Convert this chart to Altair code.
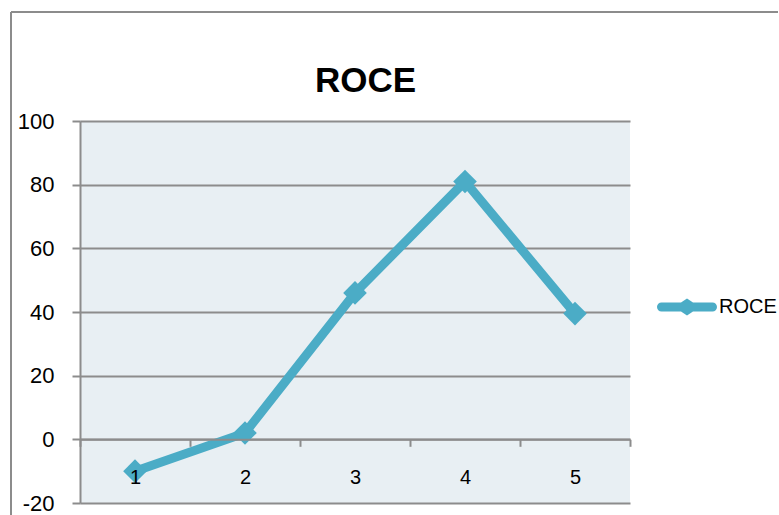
import altair as alt
import pandas as pd

# ---- data ----
periods = [1, 2, 3, 4, 5]
roce_values = [-10, 2, 46, 81, 39.5]
series_names = ["ROCE", "ROCE", "ROCE", "ROCE", "ROCE"]
y_ticks = [-20, 0, 20, 40, 60, 80, 100]
chart_title = ["ROCE"]

df = pd.DataFrame({"period": periods, "ROCE": roce_values, "series": series_names})

LINE = "#4bacc6"
GRID = "#8c8c8c"
FONT = "Liberation Sans"

W, H = 550, 382
PAD_L, PAD_T = 80, 121

x_enc = alt.X(
    "period:O",
    scale=alt.Scale(type="band", paddingInner=0, paddingOuter=0),
    axis=alt.Axis(
        title=None, labelAngle=0, offset=-63.7, tickBand="extent",
        domainColor=GRID, domainWidth=2, tickColor=GRID, tickWidth=2,
        tickSize=7, labelPadding=21, labelFontSize=20, labelColor="black",
        labelFont=FONT, grid=False, zindex=1,
    ),
)
y_enc = alt.Y(
    "ROCE:Q",
    scale=alt.Scale(domain=[-20, 100], nice=False, zero=False),
    axis=alt.Axis(
        title=None, values=y_ticks, grid=True, gridColor=GRID, gridWidth=2,
        domainColor=GRID, domainWidth=2, tickColor=GRID, tickWidth=2,
        tickSize=8, labelPadding=18, labelFontSize=22, labelColor="black",
        labelFont=FONT,
        labelExpr="datum.value < 0 ? '-' + abs(datum.value) : '' + datum.value",
    ),
)

legend_path = ("M-0.85,-0.15 H-0.2 L0,-0.28 L0.2,-0.15 H0.85 "
               "A0.15,0.15 0 0 1 0.85,0.15 H0.2 L0,0.28 L-0.2,0.15 H-0.85 "
               "A0.15,0.15 0 0 1 -0.85,-0.15 Z")

base = alt.Chart(df)

line = base.mark_line(color=LINE, strokeWidth=9, strokeJoin="miter").encode(x=x_enc, y=y_enc)

points = base.mark_point(shape="diamond", filled=True, size=560, opacity=1, strokeWidth=0).encode(
    x=x_enc,
    y=y_enc,
    color=alt.Color(
        "series:N",
        scale=alt.Scale(domain=["ROCE"], range=[LINE]),
        legend=alt.Legend(
            title=None, orient="none", legendX=577, legendY=156,
            symbolType=legend_path, symbolSize=3600, symbolStrokeWidth=0,
            symbolOpacity=1, labelFontSize=20, labelFont=FONT,
            labelColor="black", labelOffset=2, padding=0,
        ),
    ),
)

title_df = pd.DataFrame({"t": chart_title})
title = alt.Chart(title_df).mark_text(
    font=FONT, fontSize=35, fontWeight="bold", color="black",
    align="center", baseline="alphabetic",
).encode(text="t:N", x=alt.value(285.5), y=alt.value(-29))

border_df = pd.DataFrame({"a": [0]})
border_left = alt.Chart(border_df).mark_rule(color=GRID, strokeWidth=2).encode(
    x=alt.value(11 - PAD_L), y=alt.value(12 - PAD_T), y2=alt.value(515)
)
border_top = alt.Chart(border_df).mark_rule(color=GRID, strokeWidth=2).encode(
    x=alt.value(11 - PAD_L), x2=alt.value(779 - PAD_L - 1), y=alt.value(12 - PAD_T)
)

chart = alt.layer(border_left, border_top, line, points, title).properties(
    width=W, height=H,
    autosize=alt.AutoSizeParams(type="none"),
    padding={"left": PAD_L, "top": PAD_T, "right": 779 - PAD_L - W, "bottom": 515 - PAD_T - H},
    background="white",
).configure_view(fill="#e8eff3", strokeWidth=0)

chart.save("out.html", embed_options={"renderer": "svg", "actions": False})
